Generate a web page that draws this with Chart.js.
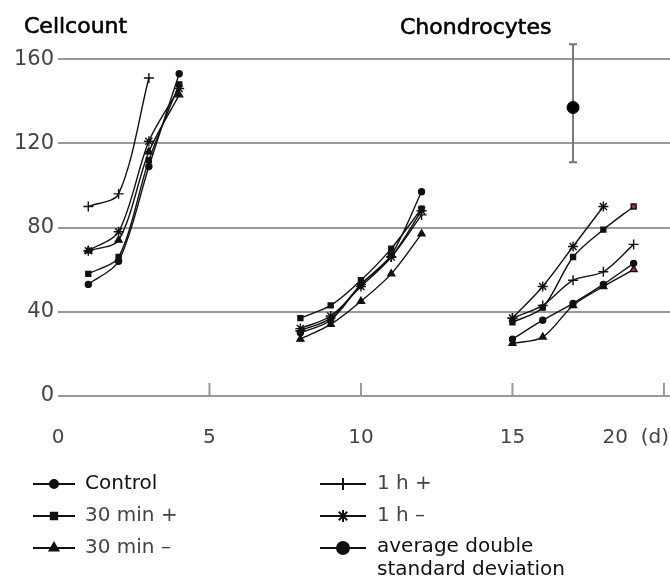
<!DOCTYPE html>
<html>
<head>
<meta charset="utf-8">
<script src="https://cdn.jsdelivr.net/npm/chart.js@4/dist/chart.umd.min.js"></script>
<style>
  html, body { margin: 0; padding: 0; background: #fff; }
  #wrap { width: 670px; height: 577px; position: relative; }
</style>
</head>
<body>
<div id="wrap"><canvas id="cellChart"></canvas></div>
<script>
// days measured, three culture runs
const days = [1, 2, 3, 4, 8, 9, 10, 11, 12, 15, 16, 17, 18, 19];

const control    = [53, 64, 109, 153, 30, 36, 53, 67, 97, 27, 36, 44, 53, 63];
const min30Plus  = [58, 66, 112, 148, 37, 43, 55, 70, 89, 35, 42, 66, 79, 90];
const min30Minus = [69, 74, 116, 143, 27, 34, 45, 58, 77, 25, 28, 43, 52, 60];
const h1Plus     = [90, 96, 151, null, 31, 37, 53, 66, 86, 37, 43, 55, 59, 72];
const h1Minus    = [69, 78, 121, 146, 32, 38, 52, 66, 88, 37, 52, 71, 90, null];

// average double standard deviation
const errDay = [17];
const errMean = [137];
const errLow = [111];
const errHigh = [167];

const yTicks = [0, 40, 80, 120, 160];
const xTicks = [0, 5, 10, 15, 20];
const xTickLabels = ['0', '5', '10', '15', '20  (d)'];

const seriesNames = ['Control', '30 min +', '30 min \u2013', '1 h +', '1 h \u2013'];
const seriesValues = [control, min30Plus, min30Minus, h1Plus, h1Minus];
const seriesStyles = ['circle', 'rect', 'triangle', 'cross', 'star'];
const seriesRadius = [3, 3.5, 4, 5, 5];

const FONT = '"DejaVu Sans", sans-serif';

function toPoints(vals) {
    const pts = [];
    days.forEach((d, i) => {
        if (i > 0 && d - days[i - 1] > 1) pts.push({ x: d - 1, y: null });
        pts.push({ x: d, y: vals[i] });
    });
    return pts;
}

const datasets = seriesValues.map((vals, idx) => ({
    label: seriesNames[idx],
    data: toPoints(vals),
    borderColor: '#111',
    borderWidth: 1.4,
    tension: 0.3,
    spanGaps: false,
    pointStyle: seriesStyles[idx],
    pointRadius: seriesRadius[idx],
    pointBorderWidth: 1.4,
    pointBorderColor: '#111',
    pointBackgroundColor: ctx => {
        const last = ctx.raw && ctx.raw.x === days[days.length - 1];
        return last && (idx === 1 || idx === 2) ? '#b3263a' : '#111';
    }
}));

datasets.push({
    label: 'average double standard deviation',
    data: errDay.map((d, i) => ({ x: d, y: errMean[i] })),
    showLine: false,
    pointStyle: 'circle',
    pointRadius: 6,
    pointBackgroundColor: '#000',
    pointBorderColor: '#000'
});

const decorPlugin = {
    id: 'decor',
    beforeDatasetsDraw(chart) {
        const { ctx, scales: { x, y } } = chart;
        ctx.save();
        // ticks pointing up from the axis
        ctx.strokeStyle = '#999';
        ctx.lineWidth = 2;
        xTicks.slice(1).forEach(v => {
            const px = x.getPixelForValue(v);
            ctx.beginPath();
            ctx.moveTo(px, y.getPixelForValue(0));
            ctx.lineTo(px, y.getPixelForValue(0) - 13);
            ctx.stroke();
        });
        // error bar
        ctx.strokeStyle = '#777';
        ctx.lineWidth = 2;
        errDay.forEach((d, i) => {
            const px = x.getPixelForValue(d);
            const top = y.getPixelForValue(errHigh[i]);
            const bot = y.getPixelForValue(errLow[i]);
            ctx.beginPath();
            ctx.moveTo(px, top); ctx.lineTo(px, bot);
            ctx.moveTo(px - 4, top); ctx.lineTo(px + 4, top);
            ctx.moveTo(px - 4, bot); ctx.lineTo(px + 4, bot);
            ctx.stroke();
        });
        ctx.restore();
    },
    afterDraw(chart) {
        const { ctx, scales: { x, y } } = chart;
        ctx.save();
        // titles
        ctx.fillStyle = '#000';
        ctx.strokeStyle = '#000';
        ctx.lineWidth = 0.6;
        ctx.font = '22px ' + FONT;
        ctx.textBaseline = 'middle';
        ctx.textAlign = 'left';
        ctx.fillText('Cellcount', 24, 27);
        ctx.strokeText('Cellcount', 24, 27);
        ctx.fillText('Chondrocytes', 400, 28);
        ctx.strokeText('Chondrocytes', 400, 28);

        // x labels
        ctx.fillStyle = '#444';
        ctx.font = '20px ' + FONT;
        const ly = y.getPixelForValue(0) + 42;
        xTicks.forEach((v, i) => {
            if (i === xTicks.length - 1) {
                ctx.textAlign = 'right';
                ctx.fillText(xTickLabels[i], chart.width - 1, ly);
            } else {
                ctx.textAlign = 'center';
                ctx.fillText(xTickLabels[i], x.getPixelForValue(v), ly);
            }
        });

        // legend
        const rows = [484, 516, 548];
        const entries = [
            { col: 0, row: 0, idx: 0 }, { col: 0, row: 1, idx: 1 }, { col: 0, row: 2, idx: 2 },
            { col: 1, row: 0, idx: 3 }, { col: 1, row: 1, idx: 4 }, { col: 1, row: 2, idx: 5 }
        ];
        const cols = [{ x0: 33, x1: 75, tx: 85 }, { x0: 320, x1: 366, tx: 377 }];
        ctx.font = '20px ' + FONT;
        ctx.textAlign = 'left';
        entries.forEach(e => {
            const c = cols[e.col];
            const ry = rows[e.row];
            ctx.strokeStyle = '#111';
            ctx.lineWidth = 2;
            ctx.beginPath();
            ctx.moveTo(c.x0, ry); ctx.lineTo(c.x1, ry);
            ctx.stroke();
            const mx = (c.x0 + c.x1) / 2;
            const isErr = e.idx === 5;
            ctx.fillStyle = '#111';
            Chart.helpers.drawPoint(ctx, {
                pointStyle: isErr ? 'circle' : seriesStyles[e.idx],
                radius: isErr ? 6 : seriesRadius[e.idx] + 1,
                rotation: 0,
                borderWidth: 2
            }, mx, ry);
            ctx.fillStyle = (e.idx === 0 || isErr) ? '#111' : '#444';
            if (isErr) {
                ctx.fillText('average double', c.tx, ry - 1);
                ctx.fillText('standard deviation', c.tx, ry + 22);
            } else {
                ctx.fillText(datasets[e.idx].label, c.tx, ry);
            }
        });
        ctx.restore();
    }
};

new Chart(document.getElementById('cellChart'), {
    type: 'line',
    data: { datasets },
    options: {
        responsive: true,
        maintainAspectRatio: false,
        animation: false,
        layout: { autoPadding: false, padding: { top: 38, bottom: 181, left: 0, right: 0 } },
        plugins: { legend: { display: false }, tooltip: { enabled: false } },
        scales: {
            x: {
                type: 'linear',
                min: 0,
                max: 20.2,
                display: false
            },
            y: {
                min: 0,
                max: 170,
                afterBuildTicks: scale => { scale.ticks = yTicks.map(v => ({ value: v })); },
                afterFit: scale => { scale.width = 58; },
                border: { display: false },
                grid: { color: '#999', lineWidth: 2, drawTicks: false },
                ticks: { color: '#444', padding: 4, font: { family: FONT, size: 21 } }
            }
        }
    },
    plugins: [decorPlugin]
});
</script>
</body>
</html>
